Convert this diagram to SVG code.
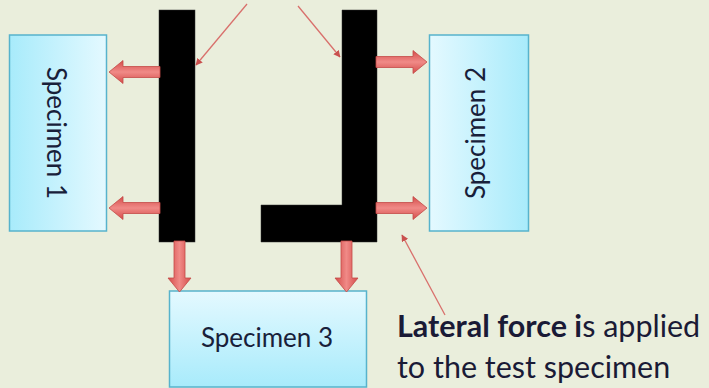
<svg xmlns="http://www.w3.org/2000/svg" width="709" height="388" viewBox="0 0 709 388">
  <defs>
    <linearGradient id="gradLR" x1="0" y1="0" x2="1" y2="0">
      <stop offset="0" stop-color="#a8ebfb"/>
      <stop offset="1" stop-color="#e4f9ff"/>
    </linearGradient>
    <linearGradient id="gradRL" x1="0" y1="0" x2="1" y2="0">
      <stop offset="0" stop-color="#e4f9ff"/>
      <stop offset="1" stop-color="#a8ebfb"/>
    </linearGradient>
    <linearGradient id="gradTB" x1="0" y1="0" x2="0" y2="1">
      <stop offset="0" stop-color="#e4f9ff"/>
      <stop offset="1" stop-color="#a8ebfb"/>
    </linearGradient>
    <linearGradient id="gradArrow" x1="0" y1="0" x2="0" y2="1">
      <stop offset="0" stop-color="#d44c4a"/>
      <stop offset="0.5" stop-color="#f08a87"/>
      <stop offset="1" stop-color="#d44c4a"/>
    </linearGradient>
    <!-- block arrow pointing right, tip at the origin -->
    <path id="blockArrow" d="M-51,-5.5 L-14,-5.5 L-14,-11.5 L0,0 L-14,11.5 L-14,5.5 L-51,5.5 Z"/>
    <marker id="tip" viewBox="0 0 10 10" refX="9" refY="5" markerWidth="7" markerHeight="7" markerUnits="userSpaceOnUse" orient="auto">
      <path d="M0,0 L10,5 L0,10 Z" fill="#c9504e"/>
    </marker>
    <style>
      .box { stroke: #57b3cc; stroke-width: 1.5; }
      .bar { fill: #000; stroke: #333; stroke-width: 0.5; }
      .force { fill: url(#gradArrow); stroke: #c44a48; stroke-width: 0.8; }
      .label { font-family: Lato, "Liberation Sans", sans-serif; font-size: 26px; fill: #18203a; }
      .note { font-family: Lato, "Liberation Sans", sans-serif; font-size: 30.5px; fill: #1a1a36; }
      .pointer { stroke: #d9706c; stroke-width: 1.3; fill: none; marker-end: url(#tip); }
    </style>
  </defs>

  <rect width="709" height="388" fill="#eaeedc"/>

  <!-- loading fixtures -->
  <g id="fixture-left">
    <rect class="bar" x="159" y="10" width="36" height="232"/>
  </g>
  <g id="fixture-right">
    <path class="bar" d="M342,10 H377 V242 H261 V205 H342 Z"/>
  </g>

  <!-- specimens -->
  <g id="specimen-1">
    <rect class="box" x="9.5" y="35" width="97" height="196" fill="url(#gradLR)"/>
    <text class="label" transform="translate(47,133) rotate(90)" text-anchor="middle">Specimen 1</text>
  </g>
  <g id="specimen-2">
    <rect class="box" x="429.5" y="35" width="99" height="196" fill="url(#gradRL)"/>
    <text class="label" transform="translate(485,133) rotate(-90)" text-anchor="middle">Specimen 2</text>
  </g>
  <g id="specimen-3">
    <rect class="box" x="169.5" y="291" width="197" height="96" fill="url(#gradTB)"/>
    <text class="label" x="267" y="347" text-anchor="middle">Specimen 3</text>
  </g>

  <!-- force arrows and pointers -->
  <g id="connectors">
    <use href="#blockArrow" class="force" transform="translate(109,72) rotate(180)"/>
    <use href="#blockArrow" class="force" transform="translate(109,208) rotate(180)"/>
    <use href="#blockArrow" class="force" transform="translate(427,62)"/>
    <use href="#blockArrow" class="force" transform="translate(427,208)"/>
    <use href="#blockArrow" class="force" transform="translate(179.5,292) rotate(90)"/>
    <use href="#blockArrow" class="force" transform="translate(346.5,292) rotate(90)"/>

    <line class="pointer" x1="247" y1="4" x2="196" y2="65"/>
    <line class="pointer" x1="298" y1="6" x2="340" y2="57"/>
    <line class="pointer" x1="445" y1="315" x2="402" y2="235"/>
  </g>

  <g id="caption">
    <text class="note" x="397" y="337"><tspan font-weight="bold">Lateral force i</tspan>s applied</text>
    <text class="note" x="397" y="378">to the test specimen</text>
  </g>
</svg>
